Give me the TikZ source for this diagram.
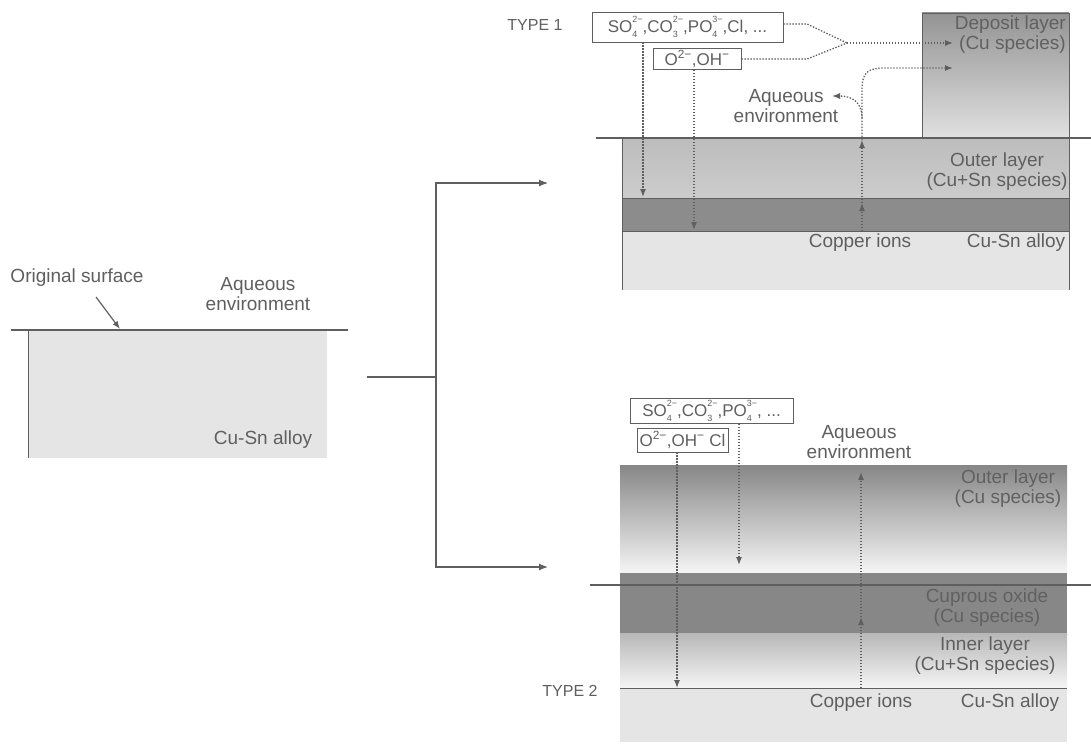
\documentclass[tikz,border=0pt]{standalone}
\usepackage{fontspec}
\setmainfont{Liberation Sans}
\usepackage{tikz}
\usetikzlibrary{arrows.meta,positioning}
\definecolor{inkgray}{RGB}{95,95,95}
\definecolor{linegray}{RGB}{95,95,95}
% ion with stacked sub- and superscript
\newcommand\ionlbl[3]{#1\rlap{\raisebox{-0.3em}{\fontsize{9}{9}\selectfont #2}}\raisebox{0.55em}{\fontsize{9}{9}\selectfont #3}}

\begin{document}
\begin{tikzpicture}[x=1pt, y=-1pt,
    lbl/.style={font=\fontsize{19}{20}\selectfont, text=inkgray, align=center, inner sep=1pt},
    typelbl/.style={font=\fontsize{16}{18}\selectfont, text=inkgray, inner sep=1pt},
    ionbox/.style={draw=linegray, line width=0.9pt, fill=white, font=\fontsize{17}{18}\selectfont, text=inkgray, inner sep=2pt},
    conn/.style={draw=linegray, line width=1.2pt},
    dotline/.style={draw=linegray, dash pattern=on 1.4pt off 1.6pt, line width=1.3pt},
    dotarrow/.style={dotline, -{Latex[length=8pt,width=6pt]}},
    surf/.style={draw=linegray, line width=1.5pt}
]
    \useasboundingbox (0,0) rectangle (1091,749);

    % original alloy
    \fill[black!10] (28,330) rectangle (327,458);
    \draw[linegray, line width=1pt] (28,330) -- (28,458);
    \draw[surf] (11,330) -- (348,330);
    \node[lbl] (origsurf) at (77,278) {Original surface};
    \node[lbl] (aq0) at (258,294) {Aqueous\\environment};
    \node[lbl] (alloy0) at (263,440) {Cu-Sn alloy};
    \coordinate (ostail) at (96,297);
    \coordinate (ostip) at (120,329);
    \draw[conn, -{Latex[length=8pt,width=6pt]}] (ostail) -- (ostip);

    % branching connector
    \coordinate (fromleft) at (367,377);
    \coordinate (split) at (436,377);
    \coordinate (up1) at (436,183);
    \coordinate (tip1) at (548,183);
    \coordinate (dn2) at (436,567);
    \coordinate (tip2) at (548,567);
    \draw[conn] (fromleft) -- (split);
    \draw[conn, -{Latex[length=9pt,width=7pt]}] (split) -- (up1) -- (tip1);
    \draw[conn, -{Latex[length=9pt,width=7pt]}] (split) -- (dn2) -- (tip2);

    % TYPE 1
    \shade[top color=black!42, bottom color=black!12] (922,13) rectangle (1069,138);
    \draw[linegray, thin] (922,138) -- (922,13) -- (1069,13) -- (1069,138);
    \shade[top color=black!26, middle color=black!9, bottom color=black!20] (622,138) rectangle (1069,198);
    \fill[black!45] (622,198) rectangle (1069,231);
    \fill[black!10] (622,231) rectangle (1069,290);
    \draw[linegray, thin] (622,198) -- (1069,198) (622,231) -- (1069,231);
    \draw[linegray, line width=1pt] (622,290) -- (622,138);
    \draw[linegray, thin] (1069,138) -- (1069,290);
    \draw[surf] (596,138) -- (1091,138);

    \node[typelbl] (type1) at (535,25) {TYPE 1};
    \node[ionbox, minimum width=191, minimum height=30] (ions1a) at (687.5,27)
        {\ionlbl{SO}{4}{2−},\ionlbl{CO}{3}{2−},\ionlbl{PO}{4}{3−},Cl, ...};
    \node[ionbox, minimum width=88, minimum height=20] (ions1b) at (697,59)
        {O\textsuperscript{2−},OH\textsuperscript{−}};
    \node[lbl, text=black!62, align=right, anchor=east] (dep1) at (1067,35) {Deposit layer\\(Cu species)};
    \node[lbl] (outer1) at (997,172) {Outer layer\\(Cu+Sn species)};
    \node[lbl] (copper1) at (860,243) {Copper ions};
    \node[lbl] (alloy1) at (1016,243) {Cu-Sn alloy};
    \node[lbl] (aq1) at (786,106) {Aqueous\\environment};

    \coordinate (a1) at (643,197);
    \coordinate (a2) at (694,230);
    \draw[dotarrow] (ions1a.south -| a1) -- (a1);
    \draw[dotarrow] (ions1b.south -| a2) -- (a2);
    \coordinate (k1) at (807,24);
    \coordinate (k2) at (807,59);
    \coordinate (join) at (847,43);
    \coordinate (deptip) at (953,43);
    \draw[dotline] (ions1a.east |- k1) -- (k1) -- (join);
    \draw[dotline] (ions1b.east) -- (k2) -- (join);
    \draw[dotarrow] (join) -- (deptip);

    \coordinate (c1base) at (862,231);
    \coordinate (c1mid) at (862,203);
    \coordinate (c1surf) at (862,140);
    \coordinate (c1bend) at (862,90);
    \coordinate (c1curve) at (885,68);
    \coordinate (c1tip) at (953,68);
    \coordinate (c1branch) at (862,118);
    \coordinate (c1aq) at (832,96);
    \draw[dotarrow] (c1base) -- (c1mid);
    \draw[dotarrow] (c1mid) -- (c1surf);
    \draw[dotarrow] (c1surf) -- (c1bend) .. controls (862,72) and (868,68) .. (c1curve) -- (c1tip);
    \draw[dotarrow] (c1branch) .. controls (862,102) and (852,96) .. (c1aq);

    % TYPE 2
    \shade[top color=black!47, bottom color=black!4] (620,465) rectangle (1067,573);
    \fill[black!47] (620,573) rectangle (1067,633);
    \shade[top color=black!28, bottom color=black!4] (620,633) rectangle (1067,688);
    \fill[black!10] (620,688) rectangle (1067,742);
    \draw[linegray, thin] (620,688) -- (1067,688);
    \draw[surf] (590,585) -- (1091,585);

    \node[typelbl] (type2) at (570,691) {TYPE 2};
    \node[ionbox, minimum width=163, minimum height=22] (ions2a) at (711.5,411)
        {\ionlbl{SO}{4}{2−},\ionlbl{CO}{3}{2−},\ionlbl{PO}{4}{3−}, ...};
    \node[ionbox, minimum width=91, minimum height=24] (ions2b) at (682.5,440)
        {O\textsuperscript{2−},OH\textsuperscript{−} Cl};
    \node[lbl] (aq2) at (859,442) {Aqueous\\environment};
    \node[lbl, text=black!62] (outer2) at (1008,489) {Outer layer\\(Cu species)};
    \node[lbl, text=black!62] (cuprous) at (987,608) {Cuprous oxide\\(Cu species)};
    \node[lbl] (inner) at (985,656) {Inner layer\\(Cu+Sn species)};
    \node[lbl] (copper2) at (861,703) {Copper ions};
    \node[lbl] (alloy2) at (1010,703) {Cu-Sn alloy};

    \coordinate (b1) at (739,565);
    \coordinate (b2) at (677,688);
    \draw[dotarrow] (ions2a.south -| b1) -- (b1);
    \draw[dotarrow] (ions2b.south -| b2) -- (b2);
    \coordinate (c2base) at (861,688);
    \coordinate (c2mid) at (861,617);
    \coordinate (c2top) at (861,472);
    \draw[dotarrow] (c2base) -- (c2mid);
    \draw[dotarrow] (c2mid) -- (c2top);
\end{tikzpicture}
\end{document}
